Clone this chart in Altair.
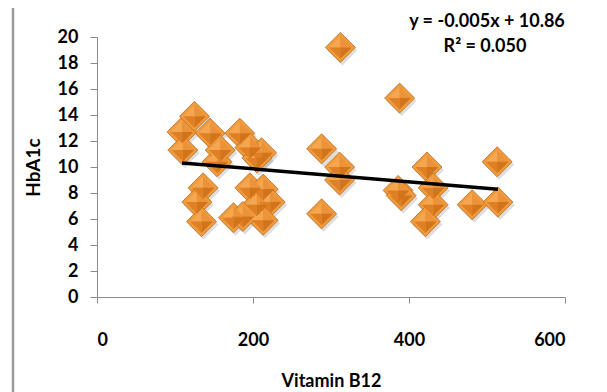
import altair as alt
import pandas as pd

# Data
b12 = [109, 125, 145, 110, 154, 158, 183, 196, 211, 205,
       136, 128, 134, 175, 196, 205, 213, 222, 213, 187,
       288, 311, 311, 288, 312, 388, 386, 390, 423, 431,
       431, 421, 481, 514, 513]
hba1c = [12.7, 13.9, 12.6, 11.3, 10.4, 11.3, 12.6, 11.5, 11.1, 10.7,
         8.4, 7.3, 5.8, 6.1, 8.4, 7.1, 8.3, 7.3, 5.9, 6.2,
         11.4, 10.0, 9.0, 6.4, 19.2, 15.3, 8.2, 7.8, 10.0, 8.4,
         7.1, 5.8, 7.1, 7.3, 10.4]
slope = -0.005
intercept = 10.86
eq_lines = ["y = -0.005x + 10.86", "R² = 0.050"]
x_ticks = [0, 200, 400, 600]
y_ticks = [0, 2, 4, 6, 8, 10, 12, 14, 16, 18, 20]

df = pd.DataFrame({"b12": b12, "hba1c": hba1c})
trend = pd.DataFrame({"b12": [min(b12), max(b12)]})
trend["hba1c"] = slope * trend["b12"] + intercept

FONT = "Lato"

xs = alt.Scale(domain=[0, 600], nice=False)
ys = alt.Scale(domain=[0, 20], nice=False)

x_axis = alt.Axis(values=x_ticks, grid=False, domainColor="#8c8c8c", tickColor="#8c8c8c",
                  tickSize=6, labelFont=FONT, labelFontSize=18, labelFontWeight="bold",
                  labelColor="#000", labelPadding=28, labelOverlap=False, title="Vitamin B12",
                  titleFont=FONT, titleFontSize=18, titleFontWeight="bold", titleColor="#000",
                  titleY=84, titleBaseline="middle")
y_axis = alt.Axis(values=y_ticks, grid=False, domainColor="#8c8c8c", tickColor="#8c8c8c",
                  tickSize=7, labelFont=FONT, labelFontSize=18, labelFontWeight="bold",
                  labelColor="#000", labelPadding=12, labelOverlap=False, title="HbA1c",
                  titleFont=FONT, titleFontSize=19, titleFontWeight="bold", titleColor="#000",
                  titleX=-64, titleY=130, titleBaseline="middle", titleAngle=-90)

base = alt.Chart(df)
enc = dict(x=alt.X("b12:Q", scale=xs, axis=x_axis), y=alt.Y("hba1c:Q", scale=ys, axis=y_axis))

shadow = base.mark_point(shape="diamond", filled=True, size=900, color="#777777",
                         opacity=0.25, xOffset=2, yOffset=3).encode(**enc)
outer = base.mark_point(shape="diamond", filled=True, size=900, fill="#F09C3E",
                        stroke="#B8691E", strokeWidth=0.8, opacity=1).encode(**enc)
tl = base.mark_point(shape="M-1,0L0,-1L0,0Z", filled=True, size=520, color="#F5A650",
                     opacity=1).encode(**enc)
tr = base.mark_point(shape="M0,-1L1,0L0,0Z", filled=True, size=520, color="#EC9238",
                     opacity=1).encode(**enc)
bl = base.mark_point(shape="M-1,0L0,0L0,1Z", filled=True, size=520, color="#E08024",
                     opacity=1).encode(**enc)
br = base.mark_point(shape="M0,0L1,0L0,1Z", filled=True, size=520, color="#D2741C",
                     opacity=1).encode(**enc)

line = alt.Chart(trend).mark_line(color="#000000", strokeWidth=3.5).encode(**enc)

ann_df = pd.DataFrame({"a": [0]})
ann1 = alt.Chart(ann_df).mark_text(
    font=FONT, fontSize=18, fontWeight="bold", color="#000", align="center", baseline="middle"
).encode(text=alt.value(eq_lines[0]), x=alt.value(390), y=alt.value(-15))
ann2 = alt.Chart(ann_df).mark_text(
    font=FONT, fontSize=18, fontWeight="bold", color="#000", align="center", baseline="middle"
).encode(text=alt.value(eq_lines[1]), x=alt.value(388), y=alt.value(10))

border = alt.Chart(ann_df).mark_rule(color="#9a9a9a", strokeWidth=2.5).encode(
    x=alt.value(-84), y=alt.value(-40), y2=alt.value(360))
border_r = alt.Chart(ann_df).mark_rule(color="#dddddd", strokeWidth=1).encode(
    x=alt.value(508), y=alt.value(-40), y2=alt.value(360))

chart = alt.layer(shadow, outer, tl, tr, bl, br, line, ann1, ann2, border, border_r).properties(
    width=468, height=260,
    autosize=alt.AutoSizeParams(type="none"),
    padding={"left": 89, "top": 29, "right": 30, "bottom": 95},
).configure_view(stroke=None)

chart.save("out.html", embed_options={"renderer": "svg", "actions": False})
